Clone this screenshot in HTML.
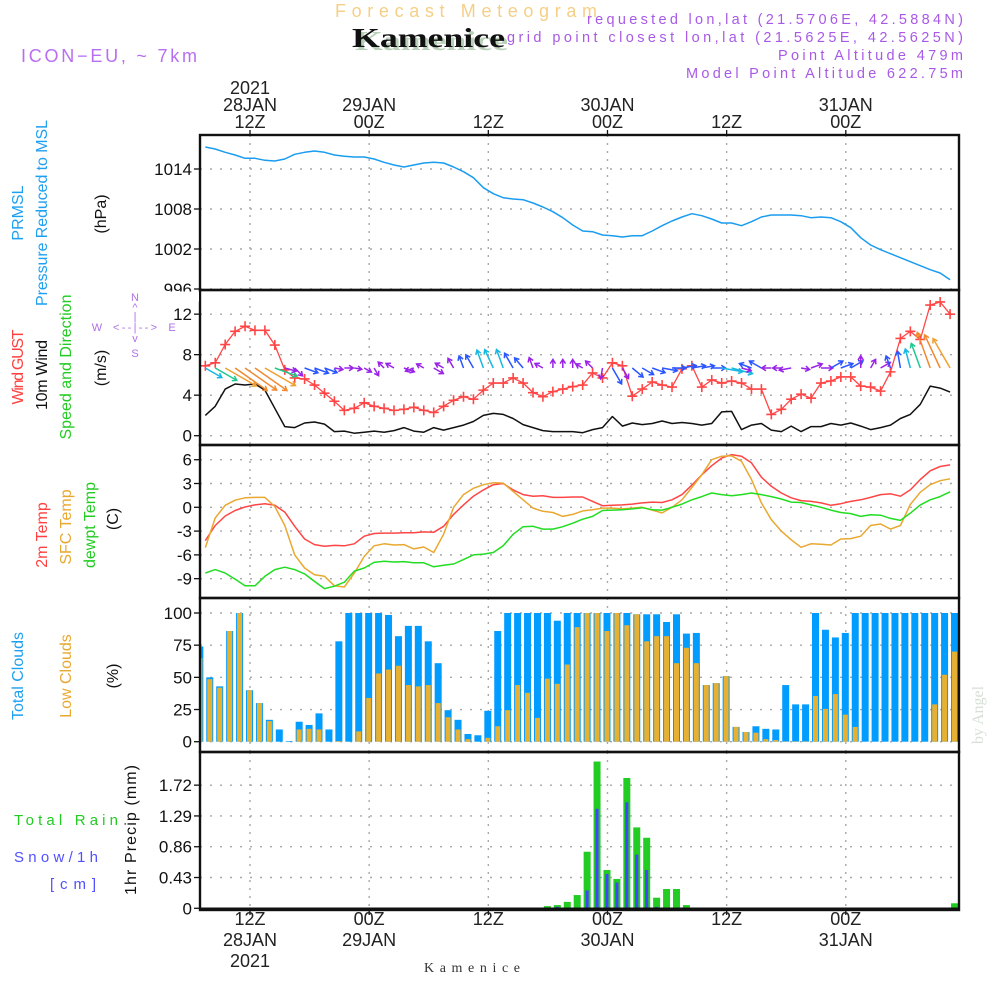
<!DOCTYPE html>
<html><head><meta charset="utf-8"><title>Forecast Meteogram - Kamenice</title>
<style>
html,body{margin:0;padding:0;background:#fff;}
svg{display:block;font-family:"Liberation Sans",sans-serif;}
</style></head>
<body>
<svg id="chart" width="1000" height="1000" viewBox="0 0 1000 1000" xmlns="http://www.w3.org/2000/svg">
<defs>
<clipPath id="cp1"><rect x="200" y="136" width="759" height="153"/></clipPath>
<clipPath id="cp2"><rect x="200" y="291" width="759" height="153"/></clipPath>
<clipPath id="cp3"><rect x="200" y="446" width="759" height="151"/></clipPath>
<clipPath id="cp4"><rect x="200" y="599" width="759" height="152"/></clipPath>
<clipPath id="cp5"><rect x="200" y="753" width="759" height="156"/></clipPath>
</defs>
<rect x="0" y="0" width="1000" height="1000" fill="#fff"/>
<!-- header -->
<text x="335" y="17" font-size="18" fill="#f5cf86" textLength="262" lengthAdjust="spacing">Forecast Meteogram</text>
<text x="355" y="50" font-family="Liberation Serif,serif" font-weight="bold" font-size="27" fill="#b8d0b8" textLength="153" lengthAdjust="spacingAndGlyphs">Kamenice</text>
<text x="352" y="47" font-family="Liberation Serif,serif" font-weight="bold" font-size="27" fill="#111" textLength="153" lengthAdjust="spacingAndGlyphs">Kamenice</text>
<text x="21" y="62" font-size="18" fill="#b86ef0" textLength="176" lengthAdjust="spacing">ICON−EU, ~ 7km</text>
<text x="963" y="24" text-anchor="end" font-size="14.5" fill="#a85ae6" textLength="376" lengthAdjust="spacing">requested lon,lat (21.5706E, 42.5884N)</text>
<text x="963" y="42" text-anchor="end" font-size="14.5" fill="#a85ae6" textLength="456" lengthAdjust="spacing">grid point closest lon,lat (21.5625E, 42.5625N)</text>
<text x="963" y="60" text-anchor="end" font-size="14.5" fill="#a85ae6" textLength="185" lengthAdjust="spacing">Point Altitude 479m</text>
<text x="963" y="78" text-anchor="end" font-size="14.5" fill="#a85ae6" textLength="277" lengthAdjust="spacing">Model Point Altitude 622.75m</text>

<!-- left labels -->
<g font-size="16">
<text transform="translate(23,213) rotate(-90)" text-anchor="middle" fill="#1ea0f0">PRMSL</text>
<text transform="translate(47,213) rotate(-90)" text-anchor="middle" fill="#1ea0f0" textLength="186" lengthAdjust="spacing">Pressure Reduced to MSL</text>
<text transform="translate(106,214) rotate(-90)" text-anchor="middle" fill="#111">(hPa)</text>
<text transform="translate(23,367) rotate(-90)" text-anchor="middle" fill="#ff4040" textLength="75" lengthAdjust="spacing">Wind GUST</text>
<text transform="translate(47,375) rotate(-90)" text-anchor="middle" fill="#111" textLength="70" lengthAdjust="spacing">10m Wind</text>
<text transform="translate(71,367) rotate(-90)" text-anchor="middle" fill="#22cc22" textLength="145" lengthAdjust="spacing">Speed and Direction</text>
<text transform="translate(106,368) rotate(-90)" text-anchor="middle" fill="#111">(m/s)</text>
<text transform="translate(47,535) rotate(-90)" text-anchor="middle" fill="#ff4040">2m Temp</text>
<text transform="translate(71,527) rotate(-90)" text-anchor="middle" fill="#e8a830">SFC Temp</text>
<text transform="translate(95,525) rotate(-90)" text-anchor="middle" fill="#22cc22">dewpt Temp</text>
<text transform="translate(118,519) rotate(-90)" text-anchor="middle" fill="#111">(C)</text>
<text transform="translate(23,676) rotate(-90)" text-anchor="middle" fill="#1ea0f0">Total Clouds</text>
<text transform="translate(71,676) rotate(-90)" text-anchor="middle" fill="#e8a830">Low Clouds</text>
<text transform="translate(118,676) rotate(-90)" text-anchor="middle" fill="#111">(%)</text>
<text transform="translate(136,830) rotate(-90)" text-anchor="middle" fill="#111" textLength="130" lengthAdjust="spacing">1hr Precip (mm)</text>
</g>
<g font-size="15">
<text x="14" y="825" fill="#22cc22" textLength="104" lengthAdjust="spacing">Total  Rain</text>
<text x="14" y="862" fill="#5050ff" textLength="84" lengthAdjust="spacing">Snow/1h</text>
<text x="50" y="889" fill="#5050ff" textLength="46" lengthAdjust="spacing">[cm]</text>
</g>
<!-- compass -->
<g fill="#b070e8" font-size="11" text-anchor="middle">
<text x="135" y="301">N</text>
<text x="135" y="311">^</text>
<text x="135" y="320">|</text>
<text x="97" y="331">W</text>
<text x="135" y="331" textLength="44" lengthAdjust="spacing">&lt;--|--&gt;</text>
<text x="172" y="331">E</text>
<text x="135" y="342">v</text>
<text x="135" y="357">S</text>
</g>
<text transform="translate(983,715) rotate(-90)" text-anchor="middle" font-family="Liberation Serif,serif" font-size="16" fill="#d6e0d6">by Angel</text>
<text x="424" y="972" font-family="Liberation Serif,serif" font-size="14" fill="#333" textLength="96" lengthAdjust="spacing">Kamenice</text>

<g id="grid"></g>
<g id="marks"></g>
<g id="frames"></g>
<g id="axes"></g>
</svg>
<script>
// ---- data (hourly, index i -> hour 7.5+i since 28JAN 00Z) ----
const pressure = [1017.3,1017.0,1016.5,1016.1,1015.6,1015.6,1015.3,1015.2,1015.5,1016.2,1016.5,1016.7,1016.5,1016.1,1015.9,1015.8,1015.8,1015.5,1015.0,1014.6,1014.3,1014.6,1014.9,1015.0,1014.9,1014.3,1013.6,1012.7,1011.2,1010.3,1009.7,1009.5,1009.4,1008.9,1008.3,1007.6,1006.7,1005.6,1004.7,1004.6,1004.1,1004.0,1003.8,1004.0,1004.0,1004.7,1005.5,1006.2,1006.8,1007.3,1007.0,1006.5,1005.9,1005.9,1005.5,1006.1,1006.8,1007.1,1007.1,1007.1,1007.0,1006.7,1006.8,1006.7,1006.1,1005.2,1003.7,1002.6,1001.9,1001.3,1000.7,1000.1,999.5,998.9,998.4,997.4];
const wind10 = [2.0,2.9,4.6,5.1,5.0,5.1,4.5,2.7,0.9,0.8,1.25,1.35,1.15,0.4,0.45,0.25,0.35,0.45,0.35,0.5,0.8,0.45,0.35,0.8,0.55,0.8,1.05,1.4,2.0,2.2,2.1,1.7,1.1,0.8,0.5,0.4,0.4,0.4,0.3,0.6,0.8,1.9,0.95,1.25,1.1,1.2,1.45,1.2,1.3,1.2,1.05,1.2,2.35,2.4,0.6,1.05,1.2,0.55,0.4,0.95,0.4,0.9,0.9,1.2,1.05,1.25,0.95,0.6,0.8,1.05,1.7,2.1,3.1,4.9,4.7,4.3];
const gust = [6.9,7.2,9.0,10.3,10.8,10.4,10.4,8.95,6.5,5.7,5.6,5.0,4.2,3.4,2.5,2.7,3.25,2.9,2.7,2.5,2.6,2.8,2.5,2.3,2.9,3.5,3.85,3.6,4.5,5.2,5.2,5.7,5.2,4.25,3.85,4.35,4.6,4.85,5.0,6.2,5.7,7.2,6.9,3.9,4.6,5.3,5.0,4.8,6.6,6.9,4.8,5.5,5.2,5.4,5.2,4.6,4.6,2.1,2.6,3.6,4.1,3.7,5.2,5.4,5.8,5.8,4.9,4.8,4.4,6.3,9.6,10.3,9.5,12.9,13.2,12.0];
const windDir = [30,30,30,35,35,35,30,20,15,45,20,20,20,10,0,10,30,60,-135,-150,20,160,-150,30,-150,-120,-110,-120,-110,-115,-110,-120,-130,-110,-150,-90,-90,-90,-150,-135,100,60,60,40,30,20,10,0,-10,-10,-10,0,10,15,15,-160,-150,180,180,170,10,-20,0,-30,-20,-30,-90,-60,-30,-110,-100,-105,-110,-110,-115,-120];
const temp2m = [-4.2,-2.3,-1.1,-0.4,0.04,0.3,0.45,0.25,-0.6,-2.4,-4.0,-4.7,-4.9,-4.8,-4.85,-4.6,-3.65,-3.3,-3.25,-3.25,-3.2,-3.2,-3.1,-3.15,-2.4,-0.9,0.3,1.4,2.2,2.85,3.0,2.2,1.6,1.4,1.45,1.25,1.25,1.3,1.3,0.75,0.2,0.25,0.3,0.4,0.55,0.65,0.6,0.95,1.6,2.8,4.1,5.25,6.2,6.65,6.45,5.6,3.8,2.65,1.8,1.2,0.85,0.75,0.55,0.25,0.45,0.75,0.95,1.25,1.6,1.7,1.4,2.2,3.5,4.6,5.15,5.35];
const tempSfc = [-5.1,-1.35,0.25,0.9,1.2,1.25,1.25,0.1,-2.3,-6.0,-7.65,-8.5,-8.7,-9.9,-10.05,-8.3,-6.2,-4.85,-4.6,-4.75,-4.7,-5.25,-5.0,-5.7,-3.4,0,1.6,2.4,2.85,3.1,3.05,2.0,0.95,-0.1,-0.5,-0.65,-1.15,-0.9,-0.45,-0.3,-0.1,-0.1,-0.2,-0.1,0,-0.35,-0.7,0,0.95,2.5,4.1,6.0,6.45,6.5,5.8,3.5,0.55,-1.55,-3.0,-4.1,-5.05,-4.6,-4.65,-4.75,-4.0,-3.95,-3.65,-2.3,-2.1,-2.75,-2.3,0.35,1.9,2.85,3.35,3.6];
const dewpt = [-8.3,-7.85,-8.3,-9.05,-9.9,-9.9,-8.7,-7.85,-7.55,-7.85,-8.4,-9.35,-10.25,-9.95,-9.45,-8.05,-7.65,-6.95,-6.8,-6.9,-6.85,-7.0,-7.0,-7.5,-7.3,-7.15,-6.6,-6.0,-5.9,-5.7,-4.85,-3.4,-2.45,-2.4,-2.75,-2.75,-2.45,-2.0,-1.5,-1.15,-0.4,-0.35,-0.3,-0.2,-0.05,-0.3,-0.35,0,0.4,0.95,1.35,1.8,1.6,1.45,1.6,1.8,1.6,1.35,1.05,0.65,0.6,0.3,0,-0.35,-0.65,-0.8,-1.15,-0.95,-1.0,-1.4,-1.65,-0.75,0.3,0.95,1.35,1.95];
// bar series: index j -> hour 7+j
const cloudTotal = [74,50,43,86,100,40,30,17,9.5,0.5,15.5,13,22,9.5,78,100,100,100,100,98.5,82,90,90,78,61,24.5,17,6,5,24,86,100,100,100,100,100,94,100,100,100,100,100,100,100,99,99,99,93,99,84,84.5,44,45.5,51,11.5,7.5,12,10,9.5,44,29,29,100,87,81,84.5,100,100,100,100,100,100,100,100,100,100,100];
const cloudLow = [65,48.6,42,86,100,40,30,16,0,0,9.5,10,9.5,0,0.5,0,8,34,53,56,59,44,43,44,30,19,9.5,2,0,3,12,24.5,44,38,18.5,49,45,60,89,100,100,86,100,90.5,99,78,82,82,61,73,61,44,45.5,51,11.5,7.5,7,2,1.3,0.3,0.3,0.3,35.5,25.5,37,21,11.5,0,0,0,0,0,0,0,29,52,70];
const precipTotal = [0,0,0,0,0,0,0,0,0,0,0,0,0,0,0,0,0,0,0,0,0,0,0,0,0,0,0,0,0,0,0,0,0,0,0,0.03,0.045,0.09,0.185,0.79,2.05,0.535,0.41,1.82,1.13,0.985,0.148,0.27,0.27,0.045,0,0,0,0,0,0,0,0,0,0,0,0,0,0,0,0,0,0,0,0,0,0,0,0,0,0,0.07];
const snowfall = [0,0,0,0,0,0,0,0,0,0,0,0,0,0,0,0,0,0,0,0,0,0,0,0,0,0,0,0,0,0,0,0,0,0,0,0,0.02,0.01,0,0.25,1.39,0.48,0.36,1.48,0.75,0.535,0.02,0.01,0,0,0,0,0,0,0,0,0,0,0,0,0,0,0,0,0,0,0,0,0,0,0,0,0,0,0,0,0];
const pressTicks = [1014,1008,1002,996];
const windTicks = [0,4,8,12];
const tempTicks = [6,3,0,-3,-6,-9];
const cloudTicks = [0,25,50,75,100];
const precipTicks = [0,0.43,0.86,1.29,1.72];
const precipTickLabels = ["0","0.43","0.86","1.29","1.72"];
const gridHours = [12,24,36,48,60,72];
const timeHours = [12,24,36,48,60,72];
const timeTopLines = [["2021","28JAN","12Z"],["29JAN","00Z"],["12Z"],["30JAN","00Z"],["12Z"],["31JAN","00Z"]];
const timeBottomLines = [["12Z","28JAN","2021"],["00Z","29JAN"],["12Z"],["00Z","30JAN"],["12Z"],["00Z","31JAN"]];

// ---- scales ----
const NS="http://www.w3.org/2000/svg";
function xt(h){return 250+(h-12)*9.93;}
function hLine(i){return 7.5+i;}
function hBar(j){return 7+j;}
function yP(p){return 169+(1014-p)*6.667;}
function yW(v){return 435.7-v*10.13;}
function yT(t){return 507.3-t*7.93;}
function yC(c){return 741.7-c*1.287;}
function yR(v){return 908.3-v*71.6;}
const panels=[{top:135,bot:290,clip:'cp1'},{top:290,bot:445,clip:'cp2'},{top:445,bot:598,clip:'cp3'},{top:598,bot:752,clip:'cp4'},{top:752,bot:910,clip:'cp5'}];
function mk(tag,attrs,parent){const e=document.createElementNS(NS,tag);for(const k in attrs)e.setAttribute(k,attrs[k]);parent.appendChild(e);return e;}
const G=document.getElementById('grid'),M=document.getElementById('marks'),F=document.getElementById('frames'),A=document.getElementById('axes');

// grid
panels.forEach((p,pi)=>{
  gridHours.forEach(h=>{
    const l=mk('line',{x1:xt(h),x2:xt(h),y1:p.top,y2:p.bot,stroke:'#a8a8a8','stroke-width':1.4,'stroke-dasharray':'2,6'},G);
    
    
  });
});
function hgrid(ticks,yf,labels,panelIdx){
  const p=panels[panelIdx];
  ticks.forEach((t,k)=>{
    const y=yf(t);
    const l=mk('line',{x1:200,x2:959,y1:y,y2:y,stroke:'#a8a8a8','stroke-width':1.4,'stroke-dasharray':'2,8'},G);
    
    
    const tk=mk('line',{x1:194,x2:200,y1:y,y2:y,stroke:'#111','stroke-width':1.3},A);
    
    
    const tx=mk('text',{x:192,y:y+6,'text-anchor':'end','font-size':17,fill:'#111'},A);
    tx.textContent=labels?labels[k]:String(t);
    
    
  });
}
hgrid(pressTicks,yP,null,0);
hgrid(windTicks,yW,null,1);
hgrid(tempTicks,yT,null,2);
hgrid(cloudTicks,yC,null,3);
hgrid(precipTicks,yR,precipTickLabels,4);

// series helpers
function poly(vals,yf,hf,color,clip,name,w){
  const pts=vals.map((v,i)=>xt(hf(i)).toFixed(1)+','+yf(v).toFixed(1)).join(' ');
  const e=mk('polyline',{points:pts,fill:'none',stroke:color,'stroke-width':w||1.5,'clip-path':'url(#'+clip+')','stroke-linejoin':'round'},M);
  
  
}
// pressure
poly(pressure,yP,hLine,'#1a9cf0','cp1','pressure-line');
// wind 10m
poly(wind10,yW,hLine,'#111','cp2','wind-10m-line');
// gust
poly(gust,yW,hLine,'#ff4545','cp2','wind-gust-line',1.3);
gust.forEach((v,i)=>{
  const x=xt(hLine(i)),y=yW(v);
  const g=mk('path',{d:`M${x-5},${y}H${x+5}M${x},${y-5}V${y+5}`,stroke:'#ff4545','stroke-width':1.6,'clip-path':'url(#cp2)'},M);
  
  
});
// wind arrows
function arrowColor(s){if(s<1.0)return '#9a22e8';if(s<2.0)return '#2a55ff';if(s<2.6)return '#18b8e0';if(s<3.5)return '#20c890';if(s<4.7)return '#f0a030';return '#f08a30';}
windDir.forEach((d,i)=>{
  const s=wind10[i];
  const x=xt(hLine(i)),y=368;
  const L=6+s*6.5, a=d*Math.PI/180;
  const x2=x+L*Math.cos(a),y2=y+L*Math.sin(a);
  const hl=5;
  const a1=a+Math.PI*0.82,a2=a-Math.PI*0.82;
  const c=arrowColor(s);
  const e=mk('path',{d:`M${x.toFixed(1)},${y}L${x2.toFixed(1)},${y2.toFixed(1)}M${(x2+hl*Math.cos(a1)).toFixed(1)},${(y2+hl*Math.sin(a1)).toFixed(1)}L${x2.toFixed(1)},${y2.toFixed(1)}L${(x2+hl*Math.cos(a2)).toFixed(1)},${(y2+hl*Math.sin(a2)).toFixed(1)}`,stroke:c,'stroke-width':1.5,fill:'none','clip-path':'url(#cp2)'},M);
  
  
});
// temperatures
poly(temp2m,yT,hLine,'#ff4545','cp3','temp-2m-line');
poly(tempSfc,yT,hLine,'#e9a830','cp3','temp-sfc-line');
poly(dewpt,yT,hLine,'#22dd22','cp3','dewpoint-line');
// clouds
cloudTotal.forEach((v,j)=>{
  const cx=xt(hBar(j))-0.5;
  const r=mk('rect',{x:cx-3.5,y:yC(v),width:7,height:Math.max(0,yC(0)-yC(v)),fill:'#009cff','clip-path':'url(#cp4)'},M);
  
  
});
cloudLow.forEach((v,j)=>{
  const cx=xt(hBar(j))-0.5;
  const r=mk('rect',{x:cx-2.5,y:yC(v),width:5,height:Math.max(0,yC(0)-yC(v)),fill:'#e8b030','clip-path':'url(#cp4)'},M);
  
  
});
// precip
precipTotal.forEach((v,j)=>{
  if(v<=0)return;
  const cx=xt(hBar(j))-0.5;
  const r=mk('rect',{x:cx-3.5,y:yR(v),width:7,height:yR(0)-yR(v),fill:'#22cc22','clip-path':'url(#cp5)'},M);
  
  
});
snowfall.forEach((v,j)=>{
  if(v<=0)return;
  const cx=xt(hBar(j))-0.5;
  const r=mk('rect',{x:cx-1.5,y:yR(v),width:3,height:yR(0)-yR(v),fill:'#4444ff','clip-path':'url(#cp5)'},M);
  
  
});
const base=mk('line',{x1:200,x2:959,y1:908.5,y2:908.5,stroke:'#111','stroke-width':2},M);



// frames
panels.forEach((p,pi)=>{
  const r=mk('rect',{x:200,y:p.top,width:759,height:p.bot-p.top,fill:'none',stroke:'#111','stroke-width':2.4},F);
  
  
});
// cut off 996 label overlap: label drawn, then cover lower part
const cover=mk('rect',{x:150,y:291.5,width:49,height:10,fill:'#fff'},A);


A.insertBefore(cover,null);
// re-add wind 12 label above cover handled by order: move wind labels after cover
// time axis
timeHours.forEach((h,k)=>{
  const x=xt(h);
  const t1=mk('line',{x1:x,x2:x,y1:130,y2:135,stroke:'#111','stroke-width':1.3},A);
  
  
  const t2=mk('line',{x1:x,x2:x,y1:910,y2:915,stroke:'#111','stroke-width':1.3},A);
  
  
  const top=timeTopLines[k];
  top.forEach((s,n)=>{
    const y=128-(top.length-1-n)*17;
    const tx=mk('text',{x:x,y:y,'text-anchor':'middle','font-size':18,fill:'#222'},A);
    tx.textContent=s;
    
    
  });
  timeBottomLines[k].forEach((s,n)=>{
    const tx=mk('text',{x:x,y:925+n*21,'text-anchor':'middle','font-size':18,fill:'#222'},A);
    tx.textContent=s;
    
    
  });
});
</script>
</body></html>
